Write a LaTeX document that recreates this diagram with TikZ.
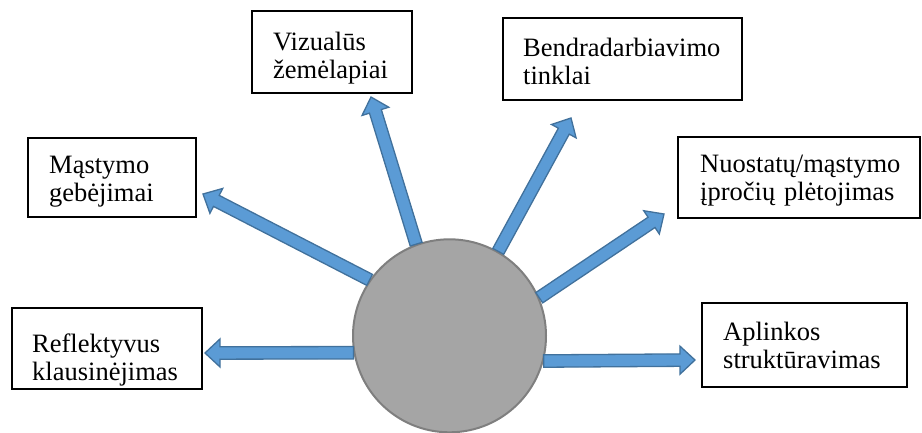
\documentclass[tikz,border=0pt]{standalone}
\usepackage{fontspec}
\setmainfont{Liberation Serif}
\usetikzlibrary{calc}

\definecolor{arrowfill}{HTML}{5B9BD5}
\definecolor{arrowline}{HTML}{41719C}
\definecolor{hubfill}{HTML}{A5A5A5}
\definecolor{hubline}{HTML}{7F7F7F}

\tikzset{
  box/.style={draw=black, line width=1.6pt, fill=white, inner sep=0pt},
  lbl/.style={anchor=base west, inner sep=0pt, align=left, text width=260pt,
              font=\fontsize{26.5}{28}\selectfont},
  hub/.style={circle, draw=hubline, fill=hubfill, line width=2pt,
              minimum size=193pt, inner sep=0pt},
  barrow/.style={draw=arrowline, fill=arrowfill, line width=1.3pt, line join=miter},
}

% Block arrow from a tail point to a tip point
\newcommand\blockarrow[2]{%
  \coordinate (ba-h) at ($(#2)!15pt!(#1)$);
  \draw[barrow] ($(#1)!6.2pt!90:(#2)$) -- ($(ba-h)!6.2pt!-90:(#1)$)
    -- ($(ba-h)!14pt!-90:(#1)$) -- (#2) -- ($(ba-h)!14pt!90:(#1)$)
    -- ($(ba-h)!6.2pt!90:(#1)$) -- ($(#1)!6.2pt!-90:(#2)$) -- cycle;
}

\begin{document}
\begin{tikzpicture}[x=1pt,y=-1pt]
\useasboundingbox (0,0) rectangle (922,432);

% central circle
\node[hub] (c) at (449.5,335.8) {};

% frames around the labels
\node[box, minimum width=190pt, minimum height=81pt] (bR) at (107,348.5) {};
\node[box, minimum width=168pt, minimum height=79pt] (bM) at (112,177.5) {};
\node[box, minimum width=160pt, minimum height=82pt] (bV) at (332,52) {};
\node[box, minimum width=239pt, minimum height=82pt] (bB) at (622.5,59) {};
\node[box, minimum width=242pt, minimum height=81pt] (bN) at (799,177.5) {};
\node[box, minimum width=205pt, minimum height=84pt] (bA) at (804.5,345) {};

% labels
\node[lbl] (tR) at (32,352) {Reflektyvus\\klausinėjimas};
\node[lbl] (tM) at (49,173) {Mąstymo\\gebėjimai};
\node[lbl] (tV) at (273,50) {Vizualūs\\žemėlapiai};
\node[lbl] (tB) at (523,56) {Bendradarbiavimo\\tinklai};
\node[lbl] (tN) at (700,172) {Nuostatų/mąstymo\\įpročių plėtojimas};
\node[lbl] (tA) at (723,340) {Aplinkos\\struktūravimas};

% arrow tips
\coordinate (pR) at (205,353);
\coordinate (pM) at (203,194);
\coordinate (pV) at (371,97);
\coordinate (pB) at (571,118);
\coordinate (pN) at (664,214);
\coordinate (pA) at (695,360);

% arrows leaving the circle
\blockarrow{c.190}{pR}
\blockarrow{c.145}{pM}
\blockarrow{c.110}{pV}
\blockarrow{c.60}{pB}
\blockarrow{c.23}{pN}
\blockarrow{c.345}{pA}
\end{tikzpicture}
\end{document}
